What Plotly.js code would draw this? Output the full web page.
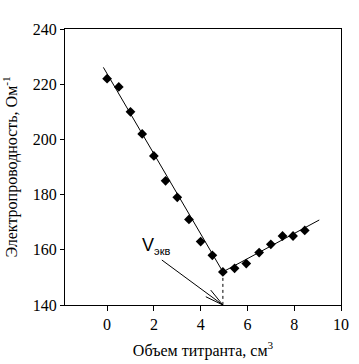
<!DOCTYPE html>
<html>
<head>
<meta charset="utf-8">
<script src="https://cdn.plot.ly/plotly-3.0.1.min.js"></script>
<style>html,body{margin:0;padding:0;background:#fff;}#chart{width:359px;height:364px;}</style>
</head>
<body>
<div id="chart"></div>
<script>
// Measured points
const volume = [0, 0.5, 1.0, 1.5, 2.0, 2.5, 3.0, 3.5, 4.0, 4.5, 4.95, 5.45, 5.95, 6.5, 7.0, 7.5, 7.95, 8.45];
const conductivity = [222, 219, 210, 202, 194, 185, 179, 171, 163, 158, 152, 153.3, 155, 159, 162, 165, 165, 167];
// Fitted lines
const fit1X = [-0.16, 4.95];
const fit1Y = [226.1, 152];
const fit2X = [4.95, 9.07];
const fit2Y = [152, 170.8];
// Equivalence point
const eqX = [4.95, 4.95];
const eqY = [152, 140];
// Arrow (tail, tip, head ends)
const arrowTail = [2.34, 156.3];
const arrowTip = [4.95, 140];
const arrowHead1 = [4.22, 143];
const arrowHead2 = [4.43, 145.4];
const xTicks = [0, 2, 4, 6, 8, 10];
const yTicks = [140, 160, 180, 200, 220, 240];

const serif = '"Liberation Serif", "Times New Roman", serif';
const traces = [
  {x: fit1X, y: fit1Y, mode: 'lines', line: {color: '#000', width: 1}, hoverinfo: 'skip'},
  {x: fit2X, y: fit2Y, mode: 'lines', line: {color: '#000', width: 1}, hoverinfo: 'skip'},
  {x: eqX, y: eqY, mode: 'lines', line: {color: '#000', width: 1, dash: 'dot'}, hoverinfo: 'skip'},
  {x: volume, y: conductivity, mode: 'markers', marker: {symbol: 'diamond', size: 7.5, color: '#000'}}
];

const lineShape = (a, b) => ({type: 'line', xref: 'x', yref: 'y', x0: a[0], y0: a[1], x1: b[0], y1: b[1], line: {color: '#000', width: 1}});

const layout = {
  width: 359, height: 364,
  margin: {l: 65, r: 18, t: 29, b: 59},
  showlegend: false,
  paper_bgcolor: '#fff', plot_bgcolor: '#fff',
  font: {family: serif, color: '#000', size: 15},
  xaxis: {
    range: [-1.8, 10], tickvals: xTicks, ticks: 'outside', ticklen: 5, tickwidth: 1, tickcolor: '#000',
    showline: true, linecolor: '#000', linewidth: 1, mirror: true, showgrid: false, zeroline: false,
    tickfont: {family: serif, size: 16, color: '#000'},
    title: {text: 'Объем титранта, см<sup>3</sup>', font: {family: serif, size: 16, color: '#000'}, standoff: 12}
  },
  yaxis: {
    range: [140, 240], tickvals: yTicks, ticks: 'outside', ticklen: 4, tickwidth: 1, tickcolor: '#000',
    showline: true, linecolor: '#000', linewidth: 1, mirror: true, showgrid: false, zeroline: false,
    tickfont: {family: serif, size: 16, color: '#000'},
    title: {text: 'Электропроводность, Ом<sup>-1</sup>', font: {family: serif, size: 16, color: '#000'}, standoff: 12}
  },
  shapes: [lineShape(arrowTail, arrowTip), lineShape(arrowHead1, arrowTip), lineShape(arrowHead2, arrowTip)],
  annotations: [{
    x: 1.4, y: 161.5, xref: 'x', yref: 'y', xanchor: 'left', yanchor: 'middle', showarrow: false,
    text: 'V<sub><span style="font-size:11px">экв</span></sub>', font: {family: '"Liberation Sans", Arial, sans-serif', size: 18, color: '#000'}
  }]
};

Plotly.newPlot('chart', traces, layout, {displayModeBar: false, staticPlot: true});
</script>
</body>
</html>
